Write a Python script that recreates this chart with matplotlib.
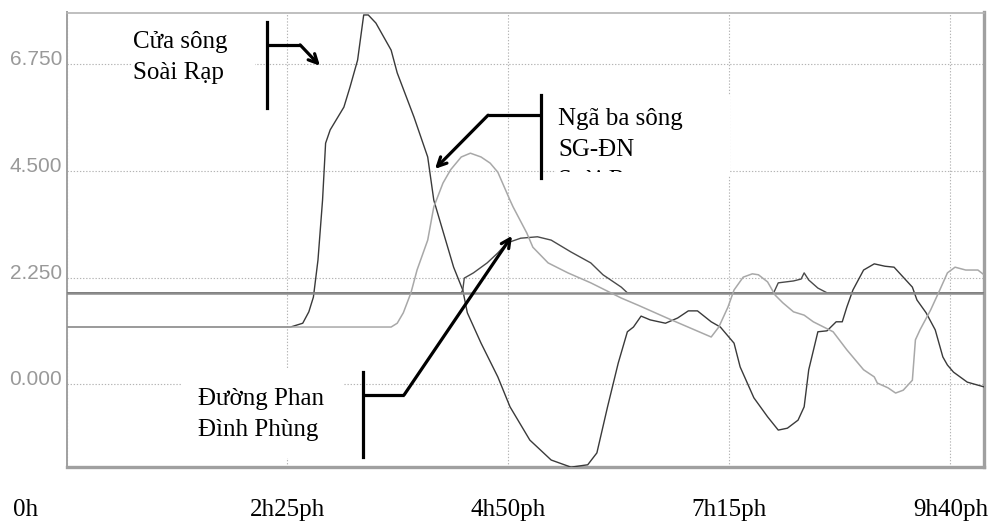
import matplotlib
matplotlib.use("Agg")
from matplotlib import pyplot as plt
from matplotlib.patches import Rectangle
from matplotlib.transforms import Bbox, TransformedBbox, ScaledTranslation

# time in minutes, water level
cua_song_t = [0, 147, 155, 159, 162, 165, 168, 170, 173, 182, 186, 191, 195, 198, 203, 213, 217,
              228, 237, 241, 254, 260, 263, 272, 283, 291, 304, 318, 331, 342, 348, 355, 362, 368,
              372, 377, 383, 393, 401, 408, 414, 423, 429, 438, 442, 451, 460, 467, 473, 480, 484,
              487, 493, 499, 505, 509, 512, 516, 523, 530, 537, 543, 549, 555, 558, 564, 570, 575,
              578, 582, 591, 602]
cua_song_h = [1.21, 1.21, 1.29, 1.53, 1.84, 2.62, 3.88, 5.08, 5.36, 5.84, 6.26, 6.83, 7.78, 7.78,
              7.61, 7.04, 6.56, 5.63, 4.79, 3.88, 2.47, 1.99, 1.51, 0.87, 0.16, -0.47, -1.17, -1.59,
              -1.74, -1.69, -1.44, -0.47, 0.45, 1.11, 1.21, 1.44, 1.36, 1.29, 1.40, 1.55, 1.55,
              1.32, 1.21, 0.87, 0.37, -0.28, -0.68, -0.96, -0.92, -0.75, -0.47, 0.31, 1.11, 1.13,
              1.32, 1.32, 1.63, 1.99, 2.41, 2.54, 2.49, 2.47, 2.26, 2.05, 1.78, 1.51, 1.15, 0.58,
              0.41, 0.26, 0.05, -0.05]

nga_ba_t = [0, 213, 217, 221, 226, 230, 237, 241, 247, 252, 259, 265, 272, 278, 283, 291, 293,
            302, 306, 316, 329, 344, 364, 375, 394, 423, 428, 434, 438, 444, 450, 454, 460, 465,
            470, 477, 484, 490, 503, 512, 523, 530, 532, 539, 544, 549, 555, 557, 560, 567, 573,
            578, 583, 590, 598, 602]
nga_ba_h = [1.21, 1.21, 1.29, 1.51, 1.93, 2.41, 3.04, 3.74, 4.24, 4.52, 4.79, 4.87, 4.79, 4.66,
            4.47, 3.88, 3.74, 3.19, 2.89, 2.56, 2.35, 2.14, 1.82, 1.67, 1.40, 1.00, 1.21, 1.63,
            1.99, 2.26, 2.33, 2.31, 2.16, 1.88, 1.72, 1.53, 1.46, 1.32, 1.11, 0.73, 0.31, 0.16,
            0.03, -0.07, -0.18, -0.12, 0.09, 0.94, 1.15, 1.57, 1.99, 2.35, 2.47, 2.41, 2.41, 2.31]

phan_dinh_phung_t = [0, 259, 260, 261, 267, 276, 283, 289, 298, 309, 318, 331, 344, 352, 364, 368,
                     464, 467, 477, 482, 484, 487, 493, 499, 602]
phan_dinh_phung_h = [1.93, 1.93, 1.99, 2.24, 2.35, 2.56, 2.77, 2.98, 3.08, 3.11, 3.04, 2.79, 2.56,
                     2.31, 2.05, 1.93, 1.93, 2.14, 2.18, 2.22, 2.35, 2.20, 2.03, 1.93, 1.93]

ground_level = 1.93

x_ticks = [0, 145, 290, 435, 580]
x_labels = ["0h", "2h25ph", "4h50ph", "7h15ph", "9h40ph"]
y_ticks = [0.0, 2.25, 4.5, 6.75]
y_labels = ["0.000", "2.250", "4.500", "6.750"]

fig = plt.figure(figsize=(9.94, 5.25), dpi=100)
ax = fig.add_axes([66.5 / 994, 58 / 525, (984 - 66.5) / 994, (467 - 12.5) / 525])
ax.set_xlim(0, 602)
ax.set_ylim(-1.737, 7.832)

ax.set_xticks(x_ticks)
ax.set_xticklabels(x_labels, fontfamily="Liberation Serif", fontsize=18, color="black")
ax.set_yticks(y_ticks)
ax.set_yticklabels(y_labels, fontfamily="Liberation Sans", fontsize=15, color="#999999")
ax.tick_params(axis="x", length=0, pad=23)
ax.tick_params(axis="y", length=0, pad=3)
ax.xaxis.get_majorticklabels()[0].set_transform(
    ax.xaxis.get_majorticklabels()[0].get_transform() + ScaledTranslation(-41 / 100, 0, fig.dpi_scale_trans))
for lab in ax.get_yticklabels():
    lab.set_transform(lab.get_transform() + ScaledTranslation(0, 6.5 / 100, fig.dpi_scale_trans))

ax.set_axisbelow(True)
ax.grid(True, color="#b4b4b4", linestyle=(0, (1.2, 1.6)), linewidth=0.8)
ax.spines["top"].set_color("#b4b4b4")
ax.spines["top"].set_linewidth(1.2)
ax.spines["left"].set_color("#a0a0a0")
ax.spines["left"].set_linewidth(1.4)
ax.spines["right"].set_color("#a0a0a0")
ax.spines["right"].set_linewidth(2.4)
ax.spines["bottom"].set_color("#a0a0a0")
ax.spines["bottom"].set_linewidth(2.4)

# white label boxes covering the grid
for x0, y0, w, h in [(42.7, 6.0, 81, 1.46), (321.5, 4.40, 114, 1.69), (75.8, -1.55, 105.6, 1.9)]:
    ax.add_patch(Rectangle((x0, y0), w, h, facecolor="white", edgecolor="none", zorder=1))

ax.plot(cua_song_t, cua_song_h, color="#3a3a3a", linewidth=1.0, zorder=3)
ax.plot(phan_dinh_phung_t, phan_dinh_phung_h, color="#4a4a4a", linewidth=1.0, zorder=3)
ax.axhline(ground_level, color="#8c8c8c", linewidth=1.8, zorder=3.5)
ax.plot(nga_ba_t, nga_ba_h, color="#a8a8a8", linewidth=1.1, zorder=4)

# callouts: bar, elbow, arrow tip
line_step = 31 / 47.5
callouts = [
    (["Cửa sông", "Soài Rạp"], (43.5, 7.09), (131.6, 7.63, 5.82), (131.6, 7.15), (153.3, 7.15), (166.3, 6.71)),
    (["Ngã ba sông", "SG-ĐN", "Soài Rạp"], (322.5, 5.46), (311.3, 6.09, 4.35), (311.3, 5.67), (276.6, 5.67), (241.8, 4.54)),
    (["Đường Phan", "Đình Phùng"], (86.5, -0.43), (194.6, 0.26, -1.53), (194.6, -0.22), (221.5, -0.22), (292.3, 3.13)),
]
clip = TransformedBbox(Bbox([[320, 4.47], [440, 6.2]]), ax.transData)
for lines, (tx, ty), (bx, by0, by1), start, elbow, tip in callouts:
    for i, line in enumerate(lines):
        t = ax.text(tx, ty - i * line_step, line, fontfamily="Liberation Serif", fontsize=18,
                    ha="left", va="baseline", zorder=6)
        t.set_clip_box(clip)
        t.set_clip_on(i == 2)
    ax.plot([bx, bx], [by0, by1], color="black", linewidth=2.3, zorder=5)
    ax.plot([start[0], elbow[0]], [start[1], elbow[1]], color="black", linewidth=2.3,
            solid_capstyle="butt", zorder=5)
    ax.annotate("", xy=tip, xytext=elbow, zorder=5,
                arrowprops=dict(arrowstyle="->", color="black", lw=2.3, shrinkA=0, shrinkB=0,
                                mutation_scale=16))

fig.savefig("out.png", dpi=100)
